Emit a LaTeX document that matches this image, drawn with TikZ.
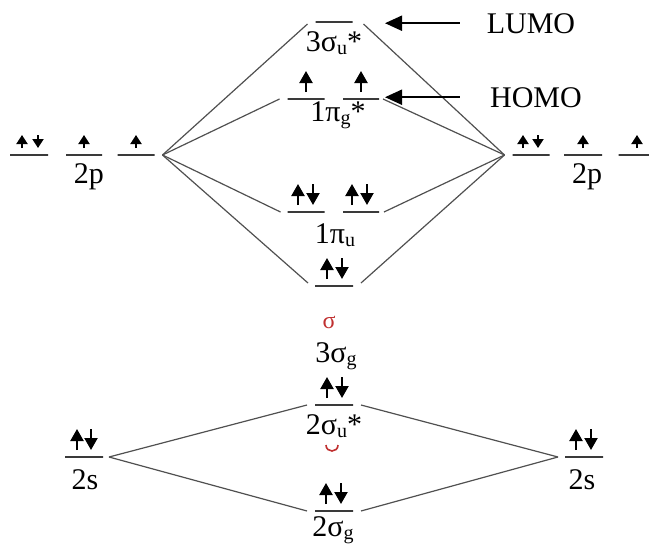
\documentclass[tikz,border=0pt]{standalone}
\usepackage{fontspec}
\setmainfont{Liberation Serif}
\usetikzlibrary{arrows.meta}
\definecolor{levcol}{HTML}{3A3A3A}
\definecolor{conncol}{HTML}{505050}
\definecolor{redsig}{HTML}{C03030}
\newcommand\lsub[1]{\raisebox{-0.12em}{\fontsize{20}{20}\selectfont #1}}
\newcommand\eupL[2]{\draw[spinL] (#1,#2-7) -- (#1,#2-28);}
\newcommand\ednL[2]{\draw[spinL] (#1,#2-28) -- (#1,#2-7);}
\newcommand\eupS{\eupL}
\newcommand\ednS[2]{\draw[spinS] (#1,#2-20) -- (#1,#2-7);}
\newcommand\eupSm[2]{\draw[spinS] (#1,#2-7) -- (#1,#2-20);}
\begin{document}
\begin{tikzpicture}[x=1pt,y=-1pt,
  lvl/.style={draw=levcol, line width=2.5pt, minimum width=#1, minimum height=0pt, inner sep=0pt, outer sep=0pt, shape=rectangle},
  conn/.style={draw=conncol, line width=1.2pt},
  lbl/.style={anchor=base, inner sep=0pt, font=\fontsize{30}{30}\selectfont},
  spinL/.style={line width=2.2pt, -{Triangle[width=13pt,length=12pt]}},
  spinS/.style={line width=2pt, -{Triangle[width=11pt,length=9pt]}},
  hint/.style={line width=2pt, -{Triangle[width=15pt,length=17pt]}}
]
\useasboundingbox (0,0) rectangle (649,544);

% atomic levels
\node[lvl=38pt] (p1) at (29,155) {};
\node[lvl=36pt] (p2) at (84,155) {};
\node[lvl=37pt] (p3) at (136,155) {};
\node[lvl=37pt] (q1) at (531,155) {};
\node[lvl=38pt] (q2) at (583,155) {};
\node[lvl=37pt] (q3) at (637,155) {};
\node[lvl=38pt] (s1) at (84,457) {};
\node[lvl=38pt] (s2) at (584,457) {};
% molecular levels
\node[lvl=37pt] (su3) at (334,22) {};
\node[lvl=37pt] (pga) at (306,99) {};
\node[lvl=36pt] (pgb) at (361,99) {};
\node[lvl=37pt] (pua) at (306,212) {};
\node[lvl=36pt] (pub) at (361,212) {};
\node[lvl=38pt] (sg3) at (334,286) {};
\node[lvl=38pt] (su2) at (334,405) {};
\node[lvl=38pt] (sg2) at (334,511) {};

% convergence points
\coordinate (PL) at ([xshift=8pt]p3.east);
\coordinate (PR) at ([xshift=-8pt]q1.west);
\coordinate (SL) at ([xshift=6pt]s1.east);
\coordinate (SR) at ([xshift=-7pt]s2.west);

% connectors
\draw[conn] (PL) -- ([xshift=-8pt,yshift=-2pt]su3.west);
\draw[conn] ([xshift=11pt,yshift=-2pt]su3.east) -- (PR);
\draw[conn] (PL) -- ([xshift=-8pt]pga.west);
\draw[conn] ([xshift=4pt]pgb.east) -- (PR);
\draw[conn] (PL) -- ([xshift=-7pt]pua.west);
\draw[conn] ([xshift=5pt]pub.east) -- (PR);
\draw[conn] (PL) -- ([xshift=-7pt,yshift=3pt]sg3.west);
\draw[conn] ([xshift=8pt,yshift=3pt]sg3.east) -- (PR);
\draw[conn] (SL) -- ([xshift=-8pt]su2.west);
\draw[conn] ([xshift=8pt]su2.east) -- (SR);
\draw[conn] (SL) -- ([xshift=-8pt]sg2.west);
\draw[conn] ([xshift=8pt]sg2.east) -- (SR);

% electrons
\eupSm{22}{155}\ednS{38}{155}
\eupSm{84}{155}
\eupSm{136}{155}
\eupSm{523}{155}\ednS{538}{155}
\eupSm{583}{155}
\eupSm{637}{155}
\eupL{77}{457}\ednL{91}{457}
\eupL{576}{457}\ednL{591}{457}
\eupL{306}{99}
\eupL{361}{99}
\eupL{298}{212}\ednL{313}{212}
\eupL{352}{212}\ednL{367}{212}
\eupL{327}{286}\ednL{342}{286}
\eupL{327}{405}\ednL{342}{405}
\eupL{326}{511}\ednL{341}{511}

% labels
\node[lbl] (t2pL) at (89,183) {2p};
\node[lbl] (t2pR) at (587,183) {2p};
\node[lbl] (tsu3) at (334,51) {3σ\lsub{u}*};
\node[lbl] (tpg) at (338,121) {1π\lsub{g}*};
\node[lbl] (tpu) at (335,243) {1π\lsub{u}};
\node[lbl] (tsg3) at (336,362) {3σ\lsub{g}};
\node[lbl] (tsu2) at (334,434) {2σ\lsub{u}*};
\node[lbl] (tsg2) at (333,536) {2σ\lsub{g}};
\node[lbl] (t2sL) at (85,489) {2s};
\node[lbl] (t2sR) at (582,489) {2s};
\node[lbl] (lumo) at (531,33) {LUMO};
\node[lbl] (homo) at (536,107) {HOMO};
\node[anchor=base, inner sep=0pt, text=redsig, font=\fontsize{24}{24}\selectfont] (rs) at (329,328) {σ};
\draw[redsig, line width=1.6pt] (326,445) .. controls (326,453) and (338,453) .. (338,445);

% HOMO / LUMO pointers
\coordinate (lt) at (385,23);
\coordinate (ht) at (385,98);
\draw[hint] ([xshift=-27pt]lumo.west) -- (lt |- lumo.west);
\draw[hint] ([xshift=-30pt]homo.west) -- (ht |- homo.west);
\end{tikzpicture}
\end{document}
